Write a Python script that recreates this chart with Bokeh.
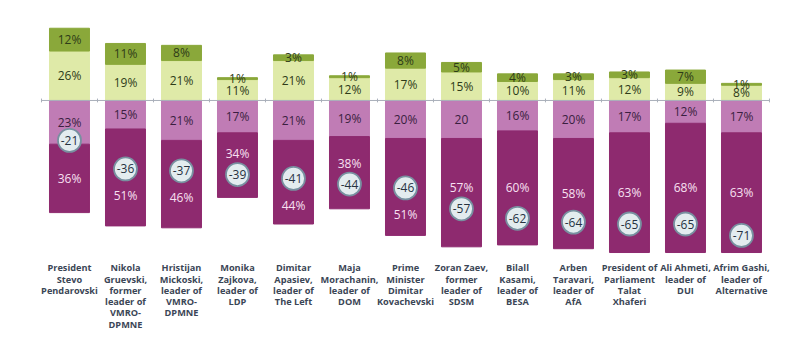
from bokeh.plotting import figure
from bokeh.models import ColumnDataSource, Range1d
from bokeh.core.properties import value
from bokeh.embed import file_html
from bokeh.resources import INLINE

# ---- data ----
names = [
    "President\nStevo\nPendarovski",
    "Nikola\nGruevski,\nformer\nleader of\nVMRO-\nDPMNE",
    "Hristijan\nMickoski,\nleader of\nVMRO-\nDPMNE",
    "Monika\nZajkova,\nleader of\nLDP",
    "Dimitar\nApasiev,\nleader of\nThe Left",
    "Maja\nMorachanin,\nleader of\nDOM",
    "Prime\nMinister\nDimitar\nKovachevski",
    "Zoran Zaev,\nformer\nleader of\nSDSM",
    "Bilall\nKasami,\nleader of\nBESA",
    "Arben\nTaravari,\nleader of\nAfA",
    "President of\nParliament\nTalat\nXhaferi",
    "Ali Ahmeti,\nleader of\nDUI",
    "Afrim Gashi,\nleader of\nAlternative",
]
very_pos = [12, 11, 8, 1, 3, 1, 8, 5, 4, 3, 3, 7, 1]
some_pos = [26, 19, 21, 11, 21, 12, 17, 15, 10, 11, 12, 9, 8]
some_neg = [23, 15, 21, 17, 21, 19, 20, 20, 16, 20, 17, 12, 17]
very_neg = [36, 51, 46, 34, 44, 38, 51, 57, 60, 58, 63, 68, 63]
net = [-21, -36, -37, -39, -41, -44, -46, -57, -62, -64, -65, -65, -71]

some_neg_labels = [f"{v}%" for v in some_neg]
some_neg_labels[7] = "20"

# ---- colours ----
C_VPOS = "#8aa83a"
C_SPOS = "#dfeaa8"
C_SNEG = "#c07cb5"
C_VNEG = "#8e2a6f"

n = len(names)
xs = list(range(n))

# derived geometry
sp_top = some_pos
vp_bot = some_pos
vp_top = [a + b for a, b in zip(some_pos, very_pos)]
sn_bot = [-v for v in some_neg]
vn_top = sn_bot
vn_bot = [-(a + b) for a, b in zip(some_neg, very_neg)]

# label positions for very-negative segment (avoid the net circle)
vn_lab_y = []
for t, b, m in zip(vn_top, vn_bot, net):
    mid = (t + b) / 2
    if m >= mid - 1:
        vn_lab_y.append(min(mid, m - 14))
    else:
        vn_lab_y.append(max(mid, m + 11))

src = ColumnDataSource(dict(
    x=xs, name=names,
    vp_bot=vp_bot, vp_top=vp_top, vp_mid=[(a + b) / 2 for a, b in zip(vp_bot, vp_top)],
    vp_lab=[f"{v}%" for v in very_pos],
    sp_top=sp_top, sp_mid=[v / 2 for v in some_pos], sp_lab=[f"{v}%" for v in some_pos],
    sn_bot=sn_bot, sn_mid=[v / 2 for v in sn_bot], sn_lab=some_neg_labels,
    vn_top=vn_top, vn_bot=vn_bot, vn_lab_y=vn_lab_y, vn_lab=[f"{v}%" for v in very_neg],
    net=net, net_lab=[str(v) for v in net],
    zero=[0] * n,
))

p = figure(width=800, height=348, output_backend="svg", toolbar_location=None,
           x_range=Range1d(-1.232, 13.054), y_range=Range1d(-130.5, 52.6),
           min_border=0)
p.axis.visible = False
p.grid.visible = False
p.outline_line_color = None
p.background_fill_color = "white"
p.border_fill_color = "white"

W = 0.714
p.vbar(x="x", bottom="zero", top="sp_top", width=W, color=C_SPOS, source=src)
p.vbar(x="x", bottom="vp_bot", top="vp_top", width=W, color=C_VPOS, source=src)
p.vbar(x="x", bottom="sn_bot", top="zero", width=W, color=C_SNEG, source=src)
p.vbar(x="x", bottom="vn_bot", top="vn_top", width=W, color=C_VNEG, source=src)

# zero axis line with ticks at category boundaries
p.segment(x0=[-0.5], x1=[n - 0.5], y0=[0], y1=[0], line_color="#aab0bb", line_width=1)
bx = [i - 0.5 for i in range(n + 1)]
p.segment(x0=bx, x1=bx, y0=[-1.0] * len(bx), y1=[1.0] * len(bx), line_color="#aab0bb", line_width=1)

FONT = value("Open Sans")
common = dict(source=src, text_align="center", text_baseline="middle",
              text_font=FONT, text_font_size="12px")
p.text(x="x", y="vp_mid", text="vp_lab", text_color="#2e3b18", **common)
p.text(x="x", y="sp_mid", text="sp_lab", text_color="#2e3b18", **common)
p.text(x="x", y="sn_mid", text="sn_lab", text_color="#3a1f40", **common)
p.text(x="x", y="vn_lab_y", text="vn_lab", text_color="#f8e0f2", **common)

# net circles
p.scatter(x="x", y="net", marker="circle", size=23, fill_color="#e3ecef",
          line_color="#7890a0", line_width=1.8, source=src)
p.text(x="x", y="net", text="net_lab", text_color="#26323f", **common)

# category labels
p.text(x="x", y=-84.7, text="name", source=src, text_align="center",
       text_baseline="top", text_font=FONT, text_font_size="9.2px",
       text_font_style="bold", text_color="#3b4656", text_line_height=0.865)

open("out.html", "w").write(file_html(p, INLINE))
